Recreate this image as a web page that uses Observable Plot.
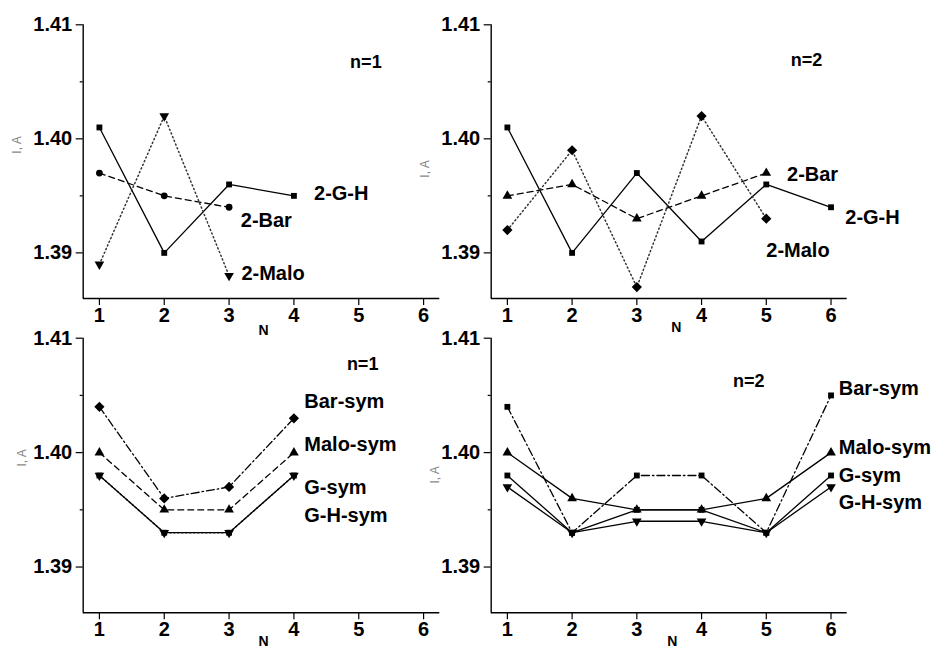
<!DOCTYPE html>
<html><head><meta charset="utf-8">
<script src="https://cdn.jsdelivr.net/npm/d3@7"></script>
<script src="https://cdn.jsdelivr.net/npm/@observablehq/plot@0.6"></script>
<style>
body{margin:0;background:#fff;}
#root{position:relative;width:936px;height:649px;overflow:hidden;background:#fff;}
#root svg{position:absolute;overflow:visible;background:transparent;}
</style></head><body><div id="root"></div>
<script>
// ---- data ----
const xTicks = [1, 2, 3, 4, 5, 6];
const yTicks = [1.39, 1.40, 1.41];
const yMinor = [1.395, 1.405];
const xDomain = [0.75, 6.25];
const yDomain = [1.386, 1.41];

const N4 = [1, 2, 3, 4];
const N3 = [1, 2, 3];
const N5 = [1, 2, 3, 4, 5];
const N6 = [1, 2, 3, 4, 5, 6];

// top-left (n=1)
const tlGH   = [1.401, 1.390, 1.396, 1.395];
const tlBar  = [1.397, 1.395, 1.394];
const tlMalo = [1.389, 1.402, 1.388];
// top-right (n=2)
const trGH   = [1.401, 1.390, 1.397, 1.391, 1.396, 1.394];
const trBar  = [1.395, 1.396, 1.393, 1.395, 1.397];
const trMalo = [1.392, 1.399, 1.387, 1.402, 1.393];
// bottom-left (n=1, symmetric)
const blBar  = [1.404, 1.396, 1.397, 1.403];
const blMalo = [1.400, 1.395, 1.395, 1.400];
const blG    = [1.398, 1.393, 1.393, 1.398];
const blGH   = [1.398, 1.393, 1.393, 1.398];
// bottom-right (n=2, symmetric)
const brBar  = [1.404, 1.393, 1.398, 1.398, 1.393, 1.405];
const brMalo = [1.400, 1.396, 1.395, 1.395, 1.396, 1.400];
const brG    = [1.398, 1.393, 1.395, 1.395, 1.393, 1.398];
const brGH   = [1.397, 1.393, 1.394, 1.394, 1.393, 1.397];

// label texts with anchor positions in data units
const tlTitle = {text: "n=1", x: 5.11, y: 1.4067};
const trTitle = {text: "n=2", x: 5.62, y: 1.4069};
const blTitle = {text: "n=1", x: 5.06, y: 1.4077};
const brTitle = {text: "n=2", x: 4.73, y: 1.4062};
const tlLabels = [
  {text: "2-G-H", x: 4.31, y: 1.3952},
  {text: "2-Bar", x: 3.18, y: 1.3928},
  {text: "2-Malo", x: 3.19, y: 1.3882}
];
const trLabels = [
  {text: "2-Bar", x: 5.32, y: 1.3969},
  {text: "2-G-H", x: 6.22, y: 1.3931},
  {text: "2-Malo", x: 5.0, y: 1.3902}
];
const blLabels = [
  {text: "Bar-sym", x: 4.16, y: 1.4045},
  {text: "Malo-sym", x: 4.16, y: 1.4007},
  {text: "G-sym", x: 4.16, y: 1.3969},
  {text: "G-H-sym", x: 4.16, y: 1.3945}
];
const brLabels = [
  {text: "Bar-sym", x: 6.12, y: 1.4056},
  {text: "Malo-sym", x: 6.12, y: 1.4004},
  {text: "G-sym", x: 6.12, y: 1.3980},
  {text: "G-H-sym", x: 6.12, y: 1.3956}
];
const xLabel = "N";
const yLabel = "I, A";

// ---- styles ----
const S3 = Math.sqrt(3);
const triDown = {
  draw(ctx, size) {
    const y = -Math.sqrt(size / (S3 * 3));
    ctx.moveTo(0, -y * 2);
    ctx.lineTo(S3 * y, y);
    ctx.lineTo(-S3 * y, y);
    ctx.closePath();
  }
};
const dashes = {solid: null, dashed: "6,4", dotted: "1.2,2.8", dashdot: "8,3,1.5,3"};
const symbols = {square: "square", circle: "circle", triangle: "triangle", diamond: "diamond2", down: triDown};
const rs = {square: 3.3, circle: 3.4, triangle: 3.6, diamond: 4.6, down: 3.6};

function table(xs, ys) { return ys.map((y, i) => ({x: xs[i], y})); }

function panel({series, labels, title, left, top, width, height, mt, mb, ml, mr, nDx, nDy, yDx, yDy}) {
  const marks = [
    Plot.ruleX([xDomain[0]], {stroke: "black", strokeWidth: 1.4}),
    Plot.ruleY([yDomain[0]], {stroke: "black", strokeWidth: 1.4}),
    Plot.axisX({ticks: xTicks, tickSize: 7, tickPadding: 2, tickFormat: d3.format("d"), label: null, strokeWidth: 1.2}),
    Plot.axisY({ticks: yTicks, tickSize: 7, tickPadding: 4, tickFormat: d3.format(".2f"), label: null, strokeWidth: 1.2}),
    Plot.axisY({ticks: yMinor, tickSize: 3, tickFormat: () => "", label: null, strokeWidth: 1.2})
  ];
  for (const s of series) {
    const d = table(s.x, s.y);
    marks.push(Plot.line(d, {x: "x", y: "y", stroke: s.dash === "dotted" ? "#333" : "black", strokeWidth: s.dash === "dotted" ? 1.5 : 1.3, strokeDasharray: dashes[s.dash]}));
  }
  for (const s of series) {
    const d = table(s.x, s.y);
    marks.push(Plot.dot(d, {x: "x", y: "y", symbol: symbols[s.symbol], r: rs[s.symbol], fill: "black", stroke: "none"}));
  }
  marks.push(Plot.text([title], {x: "x", y: "y", text: "text", textAnchor: "middle", fontSize: 18, fontWeight: "bold", fill: "black"}));
  marks.push(Plot.text(labels, {x: "x", y: "y", text: "text", textAnchor: "start", fontSize: 20, fontWeight: "bold", fill: "black"}));
  marks.push(Plot.text([xLabel], {text: d => d, frameAnchor: "bottom", dx: nDx, dy: nDy, fontSize: 14, fontWeight: "bold", fill: "black", lineAnchor: "middle"}));
  marks.push(Plot.text([yLabel], {text: d => d, frameAnchor: "left", dx: yDx, dy: yDy, rotate: -90, fontSize: 12, fontWeight: "normal", fill: "#888", lineAnchor: "middle"}));
  const svg = Plot.plot({
    width, height,
    marginTop: mt, marginBottom: mb, marginLeft: ml, marginRight: mr,
    x: {domain: xDomain},
    y: {domain: yDomain},
    style: {fontFamily: "'Liberation Sans', Arial, sans-serif", fontSize: "20px", fontWeight: "bold", color: "black", background: "transparent", overflow: "visible"},
    marks
  });
  svg.style.left = left + "px";
  svg.style.top = top + "px";
  document.getElementById("root").appendChild(svg);
}

// top-left
panel({
  series: [
    {x: N4, y: tlGH, dash: "solid", symbol: "square"},
    {x: N3, y: tlBar, dash: "dashed", symbol: "circle"},
    {x: N3, y: tlMalo, dash: "dotted", symbol: "down"}
  ],
  labels: tlLabels, title: tlTitle,
  left: 0, top: 0, width: 468, height: 340, mt: 24.3, mb: 42, ml: 82.7, mr: 28.7,
  nDx: 2, nDy: 32, yDx: -66, yDy: -8
});
// top-right
panel({
  series: [
    {x: N6, y: trGH, dash: "solid", symbol: "square"},
    {x: N5, y: trBar, dash: "dashed", symbol: "triangle"},
    {x: N5, y: trMalo, dash: "dotted", symbol: "diamond"}
  ],
  labels: trLabels, title: trTitle,
  left: 410, top: 0, width: 526, height: 340, mt: 24.3, mb: 42, ml: 80.7, mr: 89.3,
  nDx: 7, nDy: 29, yDx: -66, yDy: 16
});
// bottom-left
panel({
  series: [
    {x: N4, y: blGH, dash: "dotted", symbol: "down"},
    {x: N4, y: blG, dash: "solid", symbol: "square"},
    {x: N4, y: blMalo, dash: "dashed", symbol: "triangle"},
    {x: N4, y: blBar, dash: "dashdot", symbol: "diamond"}
  ],
  labels: blLabels, title: blTitle,
  left: 0, top: 314, width: 468, height: 335, mt: 23.7, mb: 36.7, ml: 82.7, mr: 28.7,
  nDx: 2, nDy: 29, yDx: -61, yDy: -9
});
// bottom-right
panel({
  series: [
    {x: N6, y: brGH, dash: "solid", symbol: "down"},
    {x: N6, y: brG, dash: "solid", symbol: "square"},
    {x: N6, y: brMalo, dash: "solid", symbol: "triangle"},
    {x: N6, y: brBar, dash: "dashdot", symbol: "square"}
  ],
  labels: brLabels, title: brTitle,
  left: 410, top: 314, width: 526, height: 335, mt: 23.7, mb: 36.7, ml: 80.7, mr: 89.3,
  nDx: 3, nDy: 29, yDx: -56, yDy: 8
});
</script></body></html>
